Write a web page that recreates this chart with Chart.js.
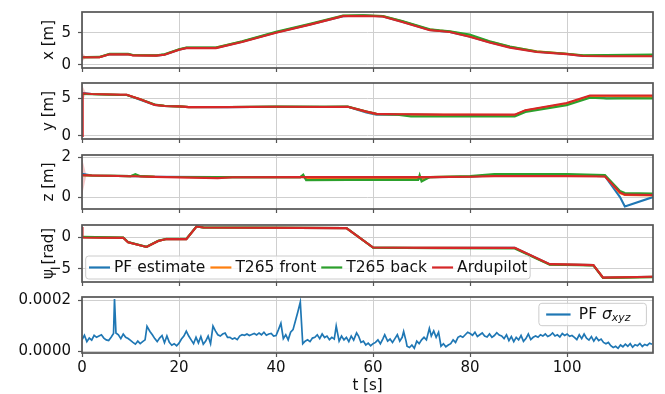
<!DOCTYPE html>
<html><head><meta charset="utf-8">
<script src="https://cdn.jsdelivr.net/npm/chart.js@4/dist/chart.umd.min.js"></script>
<style>
html,body{margin:0;padding:0;background:#fff;overflow:hidden;width:665px;height:394px;position:relative}
canvas{position:absolute;left:0}
</style></head><body>
<canvas id="c1" width="665" height="88" style="top:-4px"></canvas>
<canvas id="c2" width="665" height="88" style="top:67px"></canvas>
<canvas id="c3" width="665" height="86" style="top:139px"></canvas>
<canvas id="c4" width="665" height="89" style="top:209px"></canvas>
<canvas id="c5" width="665" height="113" style="top:281px"></canvas>
<script>
// ---------- data ----------
const X_TICKS = [0, 20, 40, 60, 80, 100];
const X_TICK_LABELS = ['0', '20', '40', '60', '80', '100'];
const SERIES = ['PF estimate', 'T265 front', 'T265 back', 'Ardupilot'];
const COLORS = ['#1f77b4', '#ff7f0e', '#2ca02c', '#d62728'];

// x [m]
const T_X = [0, 1, 3.6, 5.7, 9.5, 10.5, 15.3, 17, 20, 21.5, 27.6, 33, 40, 47, 53.8, 58, 62, 66, 71.7, 73.7, 75.8, 79.9, 84, 88.2, 93.7, 99.9, 103.3, 108.1, 117.7];
const X_PF    = [1.25, 1.2, 1.2, 1.65, 1.65, 1.5, 1.45, 1.6, 2.35, 2.65, 2.65, 3.6, 5.05, 6.3, 7.6, 7.75, 7.55, 6.75, 5.45, 5.3, 5.15, 4.45, 3.55, 2.75, 2.05, 1.7, 1.4, 1.38, 1.4];
const X_FRONT = [1.2, 1.2, 1.22, 1.7, 1.68, 1.52, 1.48, 1.62, 2.4, 2.68, 2.7, 3.65, 5.1, 6.35, 7.65, 7.7, 7.6, 6.8, 5.5, 5.35, 5.2, 4.6, 3.65, 2.82, 2.12, 1.75, 1.48, 1.5, 1.55];
const X_BACK  = [1.2, 1.22, 1.25, 1.75, 1.72, 1.55, 1.5, 1.65, 2.45, 2.72, 2.72, 3.7, 5.15, 6.4, 7.7, 7.72, 7.62, 6.85, 5.55, 5.38, 5.25, 4.75, 3.7, 2.85, 2.1, 1.75, 1.5, 1.55, 1.6];
const X_ARDU  = [1.2, 1.2, 1.2, 1.65, 1.65, 1.48, 1.45, 1.58, 2.35, 2.62, 2.62, 3.58, 5.0, 6.28, 7.6, 7.62, 7.55, 6.7, 5.42, 5.3, 5.12, 4.4, 3.5, 2.7, 2.02, 1.68, 1.38, 1.35, 1.35];

// y [m]
const T_Y = [0, 0.15, 2, 8, 9.2, 12, 15, 17, 20, 22, 30, 40, 50, 54.8, 58.6, 60.7, 65, 67.8, 74.6, 80, 89.2, 91.4, 99.9, 104.7, 108.1, 117.7];
const Y_PF    = [5.8, 5.75, 5.6, 5.5, 5.5, 4.85, 4.15, 4.0, 3.95, 3.85, 3.85, 3.9, 3.9, 3.9, 3.15, 2.85, 2.85, 2.85, 2.8, 2.8, 2.75, 3.35, 4.25, 5.25, 5.05, 5.15];
const Y_FRONT = [5.6, 5.6, 5.6, 5.5, 5.5, 4.9, 4.18, 4.02, 3.95, 3.85, 3.87, 3.9, 3.9, 3.9, 3.25, 2.92, 2.9, 2.85, 2.82, 2.82, 2.8, 3.4, 4.3, 5.35, 5.3, 5.25];
const Y_BACK  = [5.6, 5.6, 5.58, 5.48, 5.48, 4.92, 4.2, 4.02, 3.95, 3.87, 3.88, 3.92, 3.9, 3.92, 3.28, 2.95, 2.85, 2.6, 2.6, 2.65, 2.6, 3.2, 4.1, 5.1, 5.0, 5.0];
const Y_ARDU  = [0, 5.7, 5.6, 5.5, 5.5, 4.9, 4.15, 4.0, 3.95, 3.85, 3.85, 3.9, 3.88, 3.9, 3.25, 2.95, 2.9, 2.9, 2.85, 2.85, 2.85, 3.45, 4.4, 5.4, 5.4, 5.4];

// z [m]
const T_Z = [0, 2, 10, 11, 12, 15, 28, 31, 45, 45.6, 46.2, 55, 69.3, 69.6, 70, 71.7, 80, 85, 100, 107.8, 110.9, 111.9, 117.7];
const Z_PF    = [1.17, 1.08, 1.05, 1.06, 1.04, 1.02, 1.0, 1.0, 1.0, 1.05, 0.9, 0.9, 0.9, 0.95, 0.88, 1.0, 1.02, 1.1, 1.1, 1.05, 0.0, -0.47, 0.0];
const Z_FRONT = [1.1, 1.08, 1.05, 1.08, 1.05, 1.02, 0.98, 1.0, 1.0, 1.03, 0.93, 0.92, 0.92, 1.0, 0.85, 1.0, 1.03, 1.1, 1.1, 1.05, 0.2, 0.1, 0.08];
const Z_BACK  = [1.1, 1.08, 1.05, 1.15, 1.05, 1.02, 1.0, 1.0, 1.0, 1.12, 0.85, 0.86, 0.86, 1.1, 0.78, 1.0, 1.05, 1.15, 1.15, 1.1, 0.3, 0.2, 0.18];
const Z_ARDU  = [1.1, 1.08, 1.04, 1.04, 1.03, 1.01, 0.95, 0.99, 1.0, 1.0, 1.0, 1.0, 1.0, 1.0, 1.0, 1.0, 1.02, 1.05, 1.05, 1.03, 0.23, 0.12, 0.1];

// psi [rad]
const T_P = [0, 0.1, 8.5, 9.5, 13.3, 15.7, 17.4, 21.5, 23.6, 25, 54.5, 60, 73, 89.2, 96.4, 105.4, 107.4, 117.7];
const P_PF    = [0.05, 0.05, -0.05, -0.75, -1.5, -0.55, -0.25, -0.25, 1.75, 1.6, 1.5, -1.6, -1.65, -1.65, -4.25, -4.4, -6.4, -6.25];
const P_FRONT = [0.05, 0.05, -0.05, -0.75, -1.5, -0.55, -0.25, -0.25, 1.75, 1.6, 1.5, -1.6, -1.65, -1.68, -4.28, -4.4, -6.42, -6.28];
const P_BACK  = [0.1, 0.1, 0.0, -0.72, -1.48, -0.52, -0.22, -0.22, 1.78, 1.62, 1.52, -1.62, -1.7, -1.75, -4.35, -4.45, -6.45, -6.35];
const P_ARDU  = [1.7, 0.0, -0.05, -0.75, -1.5, -0.55, -0.25, -0.25, 1.75, 1.6, 1.5, -1.6, -1.65, -1.65, -4.25, -4.4, -6.4, -6.25];

// initial uncertainty band
const BAND_T = [0, 0.9];
const X_BAND_HI = [1.95, 1.2], X_BAND_LO = [0.5, 1.2];
const Y_BAND_HI = [6.8, 5.65], Y_BAND_LO = [4.7, 5.65];
const Z_BAND_HI = [1.95, 1.1], Z_BAND_LO = [0.07, 1.1];

// PF sigma_xyz
const T_SIG = [0,0.5,1,1.5,2,2.5,3,3.5,4,4.5,5,5.5,6,6.5,6.7,7,7.5,8,8.5,9,9.5,10,10.5,11,11.5,12,12.5,13,13.4,14,14.5,15,15.5,16,16.5,17,17.5,18,18.5,19,19.5,20,20.5,21,21.5,22,22.5,23,23.5,24,24.5,25,25.5,26,26.5,27,27.5,28,28.5,29,29.5,30,30.5,31,31.5,32,32.5,33,33.5,34,34.5,35,35.5,36,36.5,37,37.5,38,38.5,39,39.5,40,40.5,41,41.5,42,42.5,43,43.5,44,44.5,45,45.5,46,46.5,47,47.5,48,48.5,49,49.5,50,50.5,51,51.5,52,52.4,53,53.5,54,54.5,55,55.5,56,56.6,57,57.5,58,58.5,59,59.5,60,60.5,61,61.5,62,62.4,63,63.5,64,64.5,65,65.5,66,66.3,66.8,67,67.5,68,68.5,69,69.5,70,70.5,71,71.6,72,72.5,73,73.5,74,74.5,75,75.5,76,76.5,77,77.5,78,78.5,79,79.5,80,80.5,81,81.5,82,82.5,83,83.5,84,84.5,85,85.5,86,86.5,87,87.5,88,88.5,89,89.5,90,90.5,91,91.5,92,92.5,93,93.5,94,94.5,95,95.5,96,96.5,97,97.5,98,98.5,99,99.5,100,100.5,101,101.5,102,102.5,103,103.5,104,104.5,105,105.5,106,106.5,107,107.5,108,108.5,109,109.5,110,110.5,111,111.5,112,112.5,113,113.5,114,114.5,115,115.5,116,116.5,117,117.5];
const SIG = [4.5e-5,6.3e-5,3.8e-5,5.2e-5,4.4e-5,6.3e-5,5.5e-5,6.0e-5,6.5e-5,5.2e-5,4.5e-5,4.2e-5,5.5e-5,7.0e-5,20.5e-5,7.2e-5,6.5e-5,5.0e-5,6.8e-5,5.5e-5,5.0e-5,4.3e-5,3.5e-5,2.8e-5,4.0e-5,3.0e-5,3.8e-5,4.5e-5,9.8e-5,7.8e-5,6.5e-5,5.0e-5,3.8e-5,5.2e-5,6.2e-5,3.4e-5,6.0e-5,3.5e-5,2.4e-5,3.0e-5,2.2e-5,3.2e-5,4.8e-5,6.0e-5,7.9e-5,6.0e-5,4.5e-5,3.0e-5,5.5e-5,3.3e-5,5.8e-5,2.8e-5,4.0e-5,6.0e-5,3.0e-5,9.9e-5,8.0e-5,6.5e-5,6.0e-5,6.8e-5,7.2e-5,5.5e-5,5.5e-5,4.8e-5,5.2e-5,4.6e-5,6.0e-5,6.5e-5,6.3e-5,6.8e-5,6.2e-5,6.6e-5,7.0e-5,6.4e-5,7.2e-5,6.5e-5,7.5e-5,6.3e-5,6.8e-5,7.0e-5,6.0e-5,6.2e-5,8.5e-5,11.0e-5,5.0e-5,6.5e-5,4.5e-5,7.5e-5,8.5e-5,12.0e-5,15.5e-5,19.3e-5,3.0e-5,4.0e-5,4.5e-5,3.8e-5,5.2e-5,5.5e-5,6.5e-5,5.0e-5,6.8e-5,5.4e-5,6.0e-5,4.6e-5,5.5e-5,4.8e-5,9.9e-5,4.0e-5,6.0e-5,4.5e-5,5.5e-5,3.8e-5,6.0e-5,4.4e-5,7.2e-5,6.0e-5,3.5e-5,4.0e-5,2.5e-5,3.2e-5,2.2e-5,3.0e-5,3.5e-5,4.5e-5,3.0e-5,4.8e-5,6.5e-5,4.0e-5,4.8e-5,3.5e-5,5.0e-5,6.5e-5,4.0e-5,5.5e-5,7.8e-5,4.0e-5,2.0e-5,1.5e-5,2.5e-5,1.2e-5,4.0e-5,3.0e-5,4.5e-5,5.5e-5,4.5e-5,9.0e-5,6.0e-5,8.0e-5,5.5e-5,7.5e-5,2.0e-5,3.0e-5,1.8e-5,2.5e-5,3.0e-5,4.5e-5,3.5e-5,5.5e-5,6.0e-5,5.5e-5,6.5e-5,7.5e-5,7.0e-5,6.3e-5,7.5e-5,5.8e-5,6.5e-5,7.2e-5,6.0e-5,5.6e-5,6.8e-5,5.5e-5,6.2e-5,7.3e-5,6.4e-5,6.0e-5,5.0e-5,6.5e-5,4.2e-5,5.8e-5,3.8e-5,5.5e-5,4.5e-5,6.2e-5,3.9e-5,5.0e-5,6.8e-5,4.6e-5,5.5e-5,6.0e-5,5.5e-5,6.5e-5,6.0e-5,6.8e-5,5.8e-5,6.3e-5,7.2e-5,6.0e-5,6.5e-5,5.6e-5,7.0e-5,6.2e-5,6.8e-5,5.9e-5,6.2e-5,5.5e-5,4.6e-5,6.5e-5,5.0e-5,6.8e-5,5.2e-5,4.4e-5,5.8e-5,4.0e-5,5.5e-5,4.2e-5,4.8e-5,3.5e-5,3.0e-5,3.5e-5,2.2e-5,1.5e-5,2.0e-5,1.2e-5,2.5e-5,1.8e-5,2.8e-5,2.0e-5,3.0e-5,1.6e-5,2.6e-5,2.2e-5,3.1e-5,1.9e-5,2.7e-5,2.3e-5,3.2e-5,2.8e-5];

const Y_TICKS_X = [0, 5],   Y_LABELS_X = ['0', '5'];
const Y_TICKS_Y = [0, 5],   Y_LABELS_Y = ['0', '5'];
const Y_TICKS_Z = [0, 2],   Y_LABELS_Z = ['0', '2'];
const Y_TICKS_P = [-5, 0],  Y_LABELS_P = ['\u22125', '0'];
const Y_TICKS_S = [0, 0.0002], Y_LABELS_S = ['0.0000', '0.0002'];

// ---------- rendering ----------
const FAM = "'DejaVu Sans', 'Liberation Sans', sans-serif";
const TXT = '#111111';
Chart.defaults.font.family = FAM;
Chart.defaults.color = TXT;

function pts(t, v) { return t.map((x, i) => ({x: x, y: v[i]})); }

const framePlugin = {
  id: 'frame',
  afterDatasetsDraw(chart) {
    const {ctx, chartArea: a} = chart;
    ctx.save();
    ctx.strokeStyle = '#555555';
    ctx.lineWidth = 1.7;
    ctx.strokeRect(a.left, a.top, a.right - a.left, a.bottom - a.top);
    ctx.restore();
  }
};

function roundRect(ctx, x, y, w, h, r) {
  ctx.beginPath();
  ctx.moveTo(x + r, y);
  ctx.lineTo(x + w - r, y); ctx.arcTo(x + w, y, x + w, y + r, r);
  ctx.lineTo(x + w, y + h - r); ctx.arcTo(x + w, y + h, x + w - r, y + h, r);
  ctx.lineTo(x + r, y + h); ctx.arcTo(x, y + h, x, y + h - r, r);
  ctx.lineTo(x, y + r); ctx.arcTo(x, y, x + r, y, r);
  ctx.closePath();
}

function partsWidth(ctx, parts, fs) {
  let w = 0;
  for (const p of parts) {
    const size = p[2] ? fs * 0.7 : fs;
    ctx.font = (p[1] ? p[1] + ' ' : '') + size + 'px ' + FAM;
    w += ctx.measureText(p[0]).width;
  }
  return w;
}

const legendPlugin = {
  id: 'inlegend',
  afterDraw(chart, args, o) {
    if (!o || !o.kind) return;
    const ctx = chart.ctx, a = chart.chartArea;
    const items = chart.data.datasets.filter(d => d.inLegend);
    const fs = o.fontSize;
    ctx.save();
    const widths = items.map(d => partsWidth(ctx, d.legendParts || [[d.label, '']], fs));
    let w = o.padL + o.padR;
    widths.forEach((tw, i) => { w += o.handle + o.hgap + tw + (i < items.length - 1 ? o.gap : 0); });
    let bx, by;
    if (o.kind === 'bottomleft') { bx = a.left + o.dx; by = a.bottom - o.dy - o.h; }
    else { bx = a.right - o.dx - w; by = a.top + o.dy; }
    roundRect(ctx, bx, by, w, o.h, 3);
    ctx.fillStyle = 'rgba(255,255,255,0.8)';
    ctx.fill();
    ctx.strokeStyle = '#cccccc';
    ctx.lineWidth = 1;
    ctx.stroke();
    let x = bx + o.padL;
    const yc = by + o.h / 2;
    items.forEach((d, i) => {
      ctx.strokeStyle = d.borderColor;
      ctx.lineWidth = 2.2;
      ctx.beginPath(); ctx.moveTo(x, yc); ctx.lineTo(x + o.handle, yc); ctx.stroke();
      x += o.handle + o.hgap;
      ctx.fillStyle = TXT;
      ctx.textBaseline = 'middle';
      ctx.textAlign = 'left';
      for (const p of (d.legendParts || [[d.label, '']])) {
        const size = p[2] ? fs * 0.7 : fs;
        ctx.font = (p[1] ? p[1] + ' ' : '') + size + 'px ' + FAM;
        ctx.fillText(p[0], x, yc + (p[2] ? 3.5 : 0));
        x += ctx.measureText(p[0]).width;
      }
      x += o.gap;
    });
    ctx.restore();
  }
};

function lineDs(i, t, v, order) {
  return {label: SERIES[i], inLegend: true, data: pts(t, v), borderColor: COLORS[i], backgroundColor: COLORS[i],
          borderWidth: 2.1, pointRadius: 0, tension: 0, fill: false, order: order};
}

function makeChart(id, cfg) {
  const datasets = [];
  if (cfg.band) {
    datasets.push({label: 'band', data: pts(BAND_T, cfg.band[0]), fill: '+1', backgroundColor: 'rgba(214,39,40,0.25)',
                   borderWidth: 0, pointRadius: 0, order: 10});
    datasets.push({label: 'band', data: pts(BAND_T, cfg.band[1]), fill: false, borderWidth: 0, pointRadius: 0, order: 11});
  }
  cfg.series.forEach(s => datasets.push(s));
  const padLeft = cfg.yTitle ? 40 : 0;
  return new Chart(document.getElementById(id), {
    type: 'line',
    data: {datasets: datasets},
    options: {
      responsive: false, animation: false, devicePixelRatio: 1,
      layout: {padding: {left: padLeft, right: 12, top: 14, bottom: 0}},
      plugins: {legend: {display: false}, tooltip: {enabled: false}, inlegend: cfg.legend || false},
      scales: {
        x: {
          type: 'linear', min: 0, max: 117.7, bounds: 'data',
          afterBuildTicks: s => { s.ticks = X_TICKS.map(v => ({value: v})); },
          afterFit: s => { s.height = cfg.xH; },
          ticks: {display: !!cfg.xLabels, autoSkip: false, maxRotation: 0, padding: 2,
                  callback: (v, i) => X_TICK_LABELS[i], font: {family: FAM, size: 15}, color: TXT},
          grid: {color: '#cfcfcf', lineWidth: 1, tickLength: 4, tickColor: '#555', tickWidth: 1.2},
          border: {display: false},
          title: {display: !!cfg.xLabels, text: 't [s]', font: {family: FAM, size: 15, lineHeight: 1}, color: TXT, padding: 0}
        },
        y: {
          type: 'linear', min: cfg.yMin, max: cfg.yMax, bounds: 'data',
          afterBuildTicks: s => { s.ticks = cfg.yTicks.map(v => ({value: v})); },
          afterFit: s => { s.width = 82 - padLeft; },
          ticks: {padding: 7, callback: (v, i) => cfg.yLabels[i], font: {family: FAM, size: 15}, color: TXT},
          grid: {color: '#cfcfcf', lineWidth: 1, tickLength: 4, tickColor: '#555', tickWidth: 1.2},
          border: {display: false},
          title: {display: !!cfg.yTitle, text: cfg.yTitle || '', font: {family: FAM, size: 15}, color: TXT, padding: 0}
        }
      }
    },
    plugins: [framePlugin, legendPlugin]
  });
}

makeChart('c1', {
  yMin: -0.48, yMax: 8.25, yTicks: Y_TICKS_X, yLabels: Y_LABELS_X, yTitle: 'x [m]', xH: 14,
  band: [X_BAND_HI, X_BAND_LO],
  series: [lineDs(0, T_X, X_PF, 3), lineDs(1, T_X, X_FRONT, 2), lineDs(2, T_X, X_BACK, 1), lineDs(3, T_X, X_ARDU, 0)]
});
makeChart('c2', {
  yMin: -0.41, yMax: 7.08, yTicks: Y_TICKS_Y, yLabels: Y_LABELS_Y, yTitle: 'y [m]', xH: 14,
  band: [Y_BAND_HI, Y_BAND_LO],
  series: [lineDs(0, T_Y, Y_PF, 3), lineDs(1, T_Y, Y_FRONT, 2), lineDs(2, T_Y, Y_BACK, 1), lineDs(3, T_Y, Y_ARDU, 0)]
});
makeChart('c3', {
  yMin: -0.6, yMax: 2.11, yTicks: Y_TICKS_Z, yLabels: Y_LABELS_Z, yTitle: 'z [m]', xH: 14,
  band: [Z_BAND_HI, Z_BAND_LO],
  series: [lineDs(0, T_Z, Z_PF, 3), lineDs(1, T_Z, Z_FRONT, 2), lineDs(2, T_Z, Z_BACK, 1), lineDs(3, T_Z, Z_ARDU, 0)]
});
makeChart('c4', {
  yMin: -7.1, yMax: 2.0, yTicks: Y_TICKS_P, yLabels: Y_LABELS_P, yTitle: '\u03c8 [rad]', xH: 14,
  series: [lineDs(0, T_P, P_PF, 3), lineDs(1, T_P, P_FRONT, 2), lineDs(2, T_P, P_BACK, 1), lineDs(3, T_P, P_ARDU, 0)],
  legend: {kind: 'bottomleft', dx: 3.7, dy: 3, h: 23, padL: 3.3, padR: 2.7, handle: 21, hgap: 4, gap: 5, fontSize: 15.5}
});
makeChart('c5', {
  yMin: -0.0000065, yMax: 0.000213, yTicks: Y_TICKS_S, yLabels: Y_LABELS_S, xH: 41, xLabels: true,
  series: [{label: 'PF \u03c3xyz', inLegend: true, legendParts: [['PF ', ''], ['\u03c3', 'italic'], ['xyz', 'italic', true]],
            data: pts(T_SIG, SIG), borderColor: COLORS[0], backgroundColor: COLORS[0], borderWidth: 1.7, pointRadius: 0, tension: 0, fill: false}],
  legend: {kind: 'topright', dx: 6.6, dy: 6.3, h: 22.4, padL: 7.3, padR: 16, handle: 24.4, hgap: 8.3, gap: 0, fontSize: 15.5}
});
</script>
</body></html>
